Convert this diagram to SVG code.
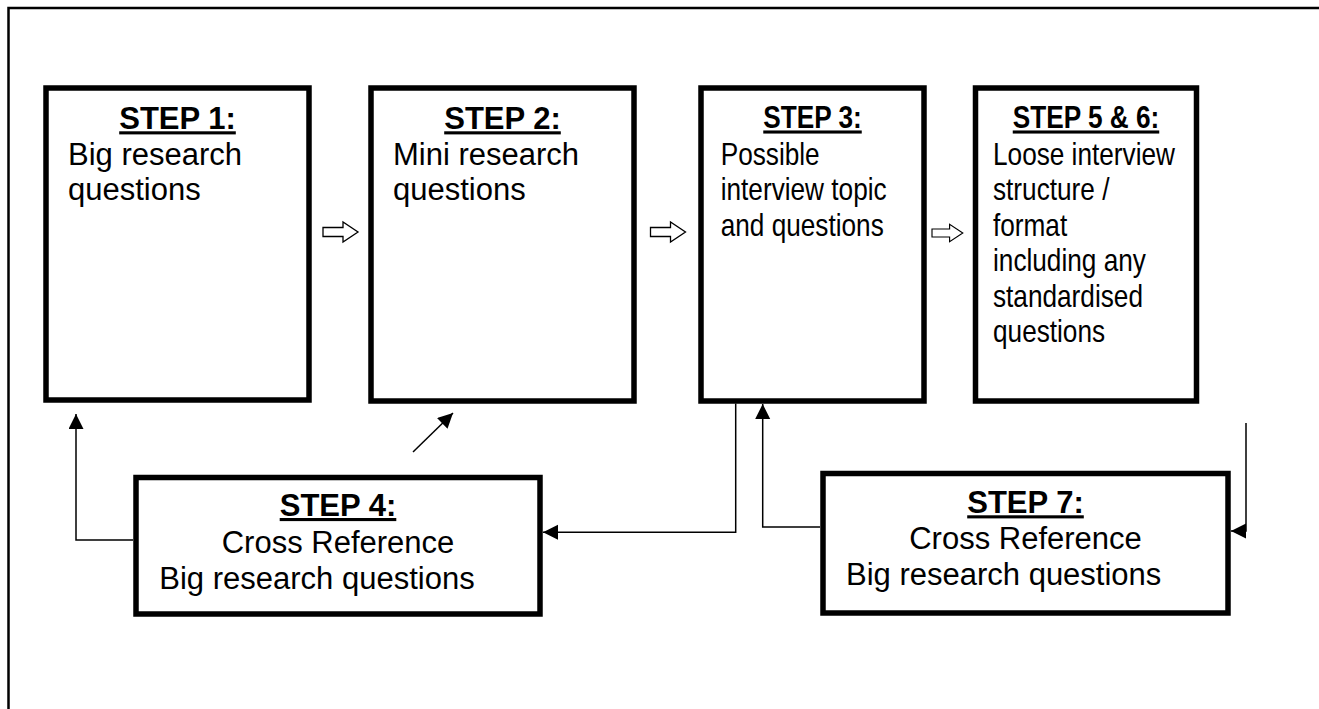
<svg xmlns="http://www.w3.org/2000/svg" width="1319" height="709" viewBox="0 0 1319 709">
  <style>
    .frame { fill: none; stroke: #000; stroke-width: 2.5; }
    .box { fill: #fff; stroke: #000; stroke-width: 5.5; }
    .link { fill: none; stroke: #000; stroke-width: 1.5; }
    .flow { fill: #fff; stroke: #000; stroke-width: 1.3; stroke-linejoin: miter; }
    text { font-family: "Liberation Sans", Arial, sans-serif; fill: #000; }
    .head { font-size: 31px; font-weight: bold; text-decoration: underline; text-anchor: middle; }
    .body { font-size: 31px; }
    .mid { text-anchor: middle; }
  </style>
  <defs>
    <marker id="tip" markerUnits="userSpaceOnUse" markerWidth="16" markerHeight="16" refX="15" refY="7.5" orient="auto">
      <path d="M0,0 L15,7.5 L0,15 Z" fill="#000"/>
    </marker>
    <!-- hollow block arrow, origin at the left end of the shaft -->
    <polygon id="blockArrow" class="flow" points="0,-4.5 20,-4.5 20,-10 35,0 20,10 20,4.5 0,4.5"/>
  </defs>

  <rect width="1319" height="709" fill="#fff"/>
  <!-- page border (top and left edges) -->
  <path class="frame" d="M8.5,709 V8 H1319"/>

  <g id="step1">
    <rect class="box" x="46" y="88" width="263" height="312"/>
    <text class="head" x="177.5" y="129.3">STEP 1:</text>
    <text class="body" x="68" y="165">Big research</text>
    <text class="body" x="68" y="199.5">questions</text>
  </g>

  <g id="step2">
    <rect class="box" x="371" y="88" width="263" height="313"/>
    <text class="head" x="502.5" y="129.3">STEP 2:</text>
    <text class="body" x="393" y="165">Mini research</text>
    <text class="body" x="393" y="199.5">questions</text>
  </g>

  <!-- the two narrow boxes use horizontally condensed lettering -->
  <g id="step3">
    <rect class="box" x="701" y="88" width="223" height="313"/>
    <text class="head" transform="translate(812.5,128.3) scale(0.845,1)">STEP 3:</text>
    <g transform="translate(720.7,0) scale(0.845,1)">
      <text class="body" x="0" y="165">Possible</text>
      <text class="body" x="0" y="200.5">interview topic</text>
      <text class="body" x="0" y="235.7">and questions</text>
    </g>
  </g>

  <g id="step5-6">
    <rect class="box" x="975.5" y="88" width="221" height="313"/>
    <text class="head" transform="translate(1086,128.3) scale(0.845,1)">STEP 5 &amp; 6:</text>
    <g transform="translate(993,0) scale(0.845,1)">
      <text class="body" x="0" y="165">Loose interview</text>
      <text class="body" x="0" y="200.5">structure /</text>
      <text class="body" x="0" y="235.7">format</text>
      <text class="body" x="0" y="271.5">including any</text>
      <text class="body" x="0" y="306.7">standardised</text>
      <text class="body" x="0" y="341.7">questions</text>
    </g>
  </g>

  <g id="step4">
    <rect class="box" x="136" y="477.5" width="404" height="136.5"/>
    <text class="head" x="338" y="516">STEP 4:</text>
    <text class="body mid" x="338" y="553.3">Cross Reference</text>
    <text class="body" x="159.3" y="589.3">Big research questions</text>
  </g>

  <g id="step7">
    <rect class="box" x="823" y="473.5" width="405" height="139.5"/>
    <text class="head" x="1025.5" y="513.3">STEP 7:</text>
    <text class="body mid" x="1025.5" y="549.3">Cross Reference</text>
    <text class="body" x="846" y="585">Big research questions</text>
  </g>

  <g id="connectors">
    <!-- forward flow between the top row -->
    <use href="#blockArrow" x="323" y="232"/>
    <use href="#blockArrow" x="650.5" y="232"/>
    <use href="#blockArrow" transform="translate(932,233) scale(0.88)"/>
    <!-- feedback loops -->
    <path class="link" d="M133,540 H76 V414" marker-end="url(#tip)"/>
    <path class="link" d="M413,452 L453,413" marker-end="url(#tip)"/>
    <path class="link" d="M735.7,403.5 V532.3 H543" marker-end="url(#tip)"/>
    <path class="link" d="M820,527 H762.7 V404" marker-end="url(#tip)"/>
    <path class="link" d="M1246,423 V531 H1231" marker-end="url(#tip)"/>
  </g>
</svg>
